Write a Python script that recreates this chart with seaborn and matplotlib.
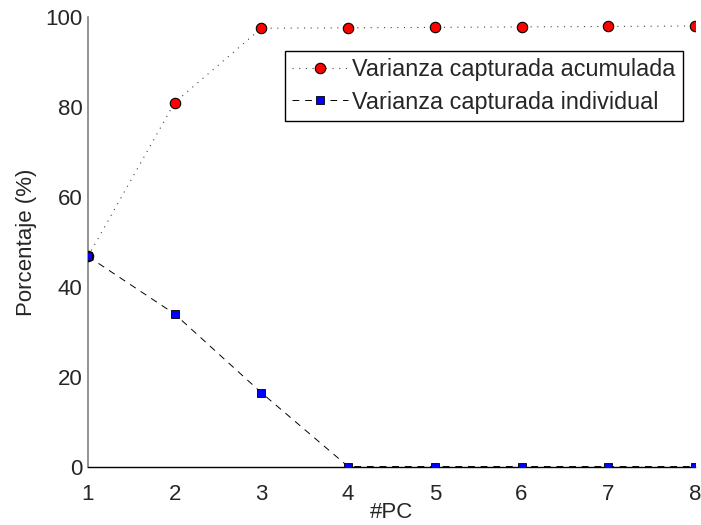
import matplotlib
matplotlib.use("Agg")
import matplotlib.pyplot as plt
import seaborn as sns
import pandas as pd

pcs = [1, 2, 3, 4, 5, 6, 7, 8]
acumulada = [46.8, 81.0, 97.5, 97.6, 97.7, 97.8, 97.9, 98.0]
individual = [46.8, 34.0, 16.5, 0.1, 0.1, 0.1, 0.1, 0.1]
xticks = [1, 2, 3, 4, 5, 6, 7, 8]
yticks = [0, 20, 40, 60, 80, 100]

sns.set_style("white")
plt.rcParams['font.family'] = ['Liberation Sans', 'DejaVu Sans']

FS = 16

fig = plt.figure(figsize=(7.01, 5.25), dpi=100)
ax = fig.add_axes([0.1255, 0.1105, 0.8659, 0.8571])

df = pd.DataFrame({"pc": pcs, "acum": acumulada, "ind": individual})

sns.lineplot(data=df, x="pc", y="acum", ax=ax, color="#444444", linestyle=(0, (1, 5)),
             linewidth=0.8, marker="o", markersize=7.5, markerfacecolor="red",
             markeredgecolor="black", markeredgewidth=0.8,
             label="Varianza capturada acumulada", zorder=3)
sns.lineplot(data=df, x="pc", y="ind", ax=ax, color="black", linestyle=(0, (7, 6)),
             linewidth=0.7, marker="s", markersize=6, markerfacecolor="blue",
             markeredgecolor="black", markeredgewidth=0.6,
             label="Varianza capturada individual", zorder=3)

ax.set_xlim(1, 8)
ax.set_ylim(0, 100)
ax.set_xticks(xticks)
ax.set_yticks(yticks)
ax.tick_params(axis="both", direction="in", length=5, width=0.8, labelsize=FS,
               color="black", pad=4)
ax.tick_params(axis="x", pad=12)
for s in ["top", "right"]:
    ax.spines[s].set_visible(False)
ax.spines["left"].set_color("#808080")
ax.spines["left"].set_linewidth(1.2)
ax.spines["bottom"].set_color("black")
ax.spines["bottom"].set_linewidth(1.0)
ax.set_xlabel("#PC", fontsize=FS, labelpad=-2)
ax.set_ylabel("Porcentaje (%)", fontsize=FS, labelpad=6)
for lab in ax.get_xticklabels() + ax.get_yticklabels():
    lab.set_clip_on(False)

leg = ax.legend(loc="upper right", bbox_to_anchor=(0.980, 0.924), fontsize=16.8,
                frameon=True, fancybox=False, edgecolor="black", framealpha=1,
                handlelength=2.4, handletextpad=0.2, borderpad=0.3, labelspacing=0.4,
                borderaxespad=0)
leg.get_frame().set_linewidth(1.0)

fig.savefig("out.png", dpi=100)
